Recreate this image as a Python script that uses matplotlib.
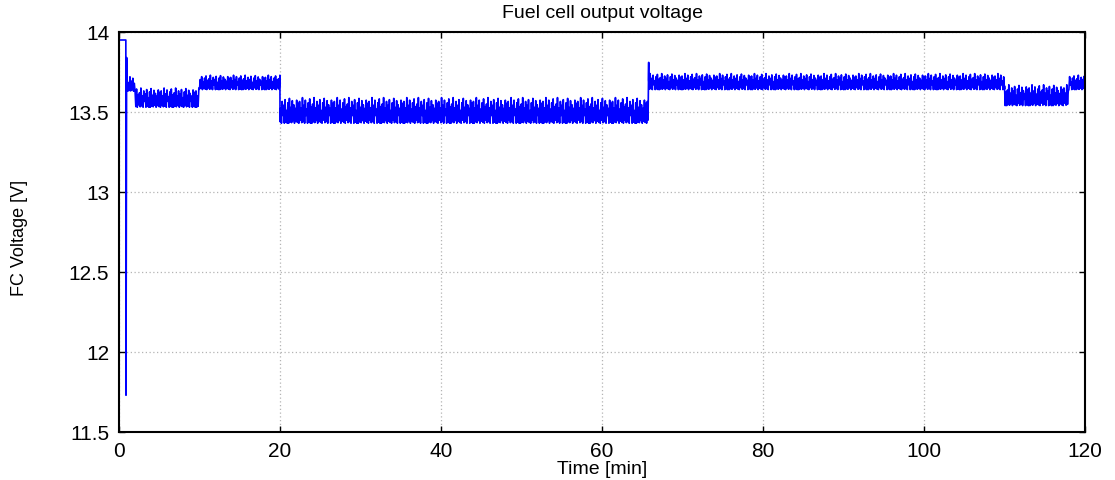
import numpy as np
import matplotlib
matplotlib.use('Agg')
import matplotlib.pyplot as plt

plt.rcParams['font.family'] = ['Liberation Sans', 'DejaVu Sans']

# start transient (time [min], voltage [V])
start_t = [0.0, 0.85, 0.87, 0.95, 1.0]
start_v = [13.95, 13.95, 11.73, 13.84, 13.66]

# noisy plateaus: start, end, low, high [V]
seg_start = [1.0, 2.0, 10.0, 20.0, 65.8, 110.0, 118.0]
seg_end = [2.0, 10.0, 20.0, 65.8, 110.0, 118.0, 120.0]
seg_low = [13.63, 13.53, 13.64, 13.43, 13.64, 13.54, 13.64]
seg_high = [13.72, 13.65, 13.73, 13.59, 13.74, 13.67, 13.73]

ripple_hi = [0.85, 0.6, 1.0, 0.7, 0.9, 0.55, 0.8, 0.95, 0.65, 0.75, 1.0, 0.6,
             0.85, 0.7, 0.92, 0.5, 0.8, 0.97, 0.62, 0.88, 0.72, 0.58, 0.9, 0.78]
ripple_lo = [0.0, 0.05, 0.02, 0.1, 0.0, 0.08, 0.03, 0.0, 0.12, 0.02, 0.06, 0.0,
             0.3, 0.0, 0.04, 0.0]
ripple_dt = 0.09
spike_t = 65.8
spike_v = 13.81

t_all = list(start_t)
v_all = list(start_v)
k = 0
for s, e, lo, hi in zip(seg_start, seg_end, seg_low, seg_high):
    if s == spike_t:
        t_all.append(s)
        v_all.append(spike_v)
    for t in np.arange(s, e, ripple_dt):
        if k % 2 == 0:
            f = ripple_hi[(k // 2) % len(ripple_hi)]
        else:
            f = ripple_lo[(k // 2) % len(ripple_lo)]
        t_all.append(t)
        v_all.append(lo + f * (hi - lo))
        k += 1

fig = plt.figure(figsize=(11.15, 4.8), dpi=100)
ax = fig.add_axes([119 / 1115, 48 / 480, 966 / 1115, 400 / 480])
ax.plot(t_all, v_all, color=(0, 0, 1), lw=1.2)

ax.set_xlim(0, 120)
ax.set_ylim(11.5, 14)
ax.set_xticks(np.arange(0, 121, 20))
ax.set_yticks(np.arange(11.5, 14.01, 0.5))
ax.set_yticklabels(['11.5', '12', '12.5', '13', '13.5', '14'])
ax.grid(True, color='#b4b4b4', linestyle=(0, (1, 2)), lw=0.9)
ax.tick_params(direction='in', length=4, width=1, top=True, right=True,
               labelsize=15, pad=7, colors='black')
for sp in ax.spines.values():
    sp.set_linewidth(1.5)

ax.set_title('Fuel cell output voltage', fontsize=14, pad=10)
ax.set_xlabel('Time [min]', fontsize=14, labelpad=0)
ax.set_ylabel('FC Voltage [V]', fontsize=13)
ax.yaxis.set_label_coords(-0.094, 0.485)

fig.savefig('out.png', dpi=100)
